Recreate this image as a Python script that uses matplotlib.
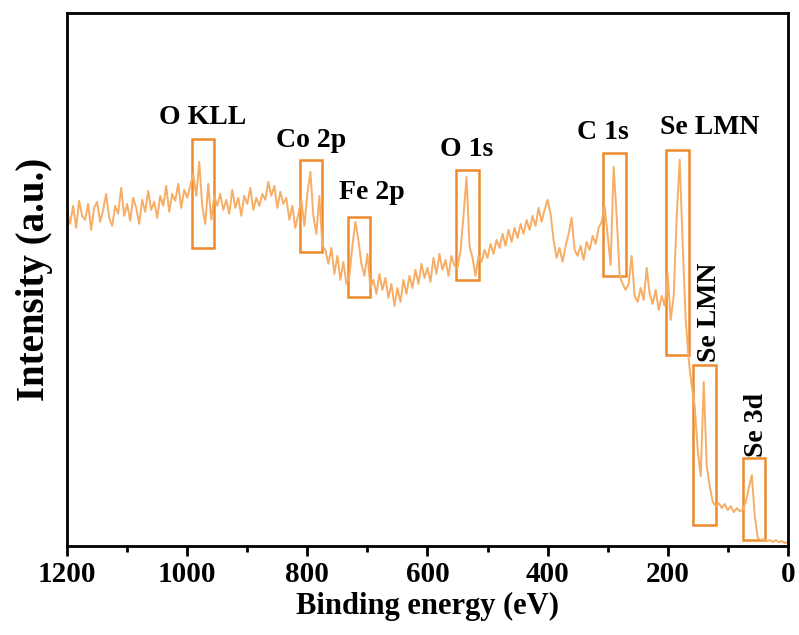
import matplotlib.pyplot as plt
from matplotlib.patches import Rectangle
import numpy as np

plt.rcParams['font.family'] = ['Liberation Serif', 'DejaVu Serif']
plt.rcParams['font.weight'] = 'bold'

# binding energy grid, 1200 -> 0 eV in 5 eV steps
energy = np.arange(1200, -1, -5)
# intensity (arb. units)
intensity = [
    335, 322, 340, 318, 345, 330, 326, 342, 316, 338, 344, 324, 336, 352, 328, 320, 340, 332, 358, 330,
    342, 325, 348, 338, 322, 346, 334, 355, 336, 344, 328, 350, 340, 360, 334, 352, 345, 362, 338, 356,
    348, 360, 372, 350, 384, 340, 322, 362, 326, 350, 340, 352, 336, 346, 332, 356, 338, 348, 330, 350,
    342, 358, 336, 348, 340, 352, 346, 364, 350, 360, 338, 354, 342, 348, 326, 340, 318, 332, 346, 320,
    352, 374, 330, 312, 350, 300, 296, 282, 298, 272, 290, 266, 284, 262, 270, 300, 324, 306, 282, 270,
    292, 258, 266, 252, 272, 256, 268, 248, 262, 240, 258, 244, 266, 252, 270, 258, 276, 262, 282, 268,
    278, 264, 288, 272, 292, 276, 286, 270, 290, 280, 278, 295, 330, 369, 300, 288, 270, 290, 284, 296,
    288, 302, 292, 306, 298, 312, 300, 316, 304, 318, 308, 322, 312, 326, 316, 330, 320, 338, 324, 336,
    346, 332, 306, 288, 298, 284, 300, 312, 328, 296, 290, 300, 286, 304, 296, 310, 302, 318, 324, 340,
    310, 281, 379, 330, 270, 262, 256, 262, 290, 250, 244, 258, 246, 278, 252, 242, 256, 236, 250, 240,
    272, 226, 250, 330, 386, 300, 226, 186, 160, 140, 96, 70, 164, 80, 60, 44, 40, 43, 38, 42,
    36, 40, 34, 38, 35, 36, 44, 58, 71, 30, 8, 6, 7, 5, 6, 4, 6, 4, 5, 3,
    4,
]

# peak boxes: (E high, E low, I bottom, I top)
boxes = [
    (992, 955, 298, 407),
    (812, 775, 294, 386),
    (732, 695, 249, 329),
    (552, 515, 266, 376),
    (308, 270, 270, 393),
    (202, 165, 191, 396),
    (158, 120, 21, 181),
    (75, 38, 6, 88),
]
labels = ['O KLL', 'Co 2p', 'Fe 2p', 'O 1s', 'C 1s', 'Se LMN', 'Se LMN', 'Se 3d']
label_pos = [(975, 428), (793, 405), (693, 353), (535, 396), (308, 413),
             (130, 418), (130, 234), (52, 121)]
label_rot = [0, 0, 0, 0, 0, 0, 90, 90]

fig = plt.figure(figsize=(7.99, 6.35), dpi=100)
ax = fig.add_axes([0.084, 0.140, 0.902, 0.840])

ax.plot(energy, intensity, color='#f6ae66', lw=1.4)

for (e_hi, e_lo, i_lo, i_hi) in boxes:
    ax.add_patch(Rectangle((e_lo, i_lo), e_hi - e_lo, i_hi - i_lo,
                           fill=False, edgecolor='#ec8a2c', lw=1.8))

for txt, (x, y), rot in zip(labels, label_pos, label_rot):
    ax.text(x, y, txt, ha='center', va='center', rotation=rot,
            fontsize=20, fontweight='bold')

ax.set_xlim(1200, 0)
ax.set_ylim(0, 533)
ax.set_xticks(np.arange(0, 1201, 200))
ax.set_xticks(np.arange(0, 1201, 100), minor=True)
ax.set_yticks([])
ax.tick_params(axis='x', which='major', direction='out', length=7, width=2, labelsize=21)
ax.tick_params(axis='x', which='minor', direction='out', length=4, width=2)
for s in ax.spines.values():
    s.set_linewidth(2)

ax.set_xlabel('Binding energy (eV)', fontsize=22, fontweight='bold', labelpad=3)
ax.set_ylabel('Intensity (a.u.)', fontsize=28, fontweight='bold', labelpad=10)

plt.savefig('out.png', dpi=100)
